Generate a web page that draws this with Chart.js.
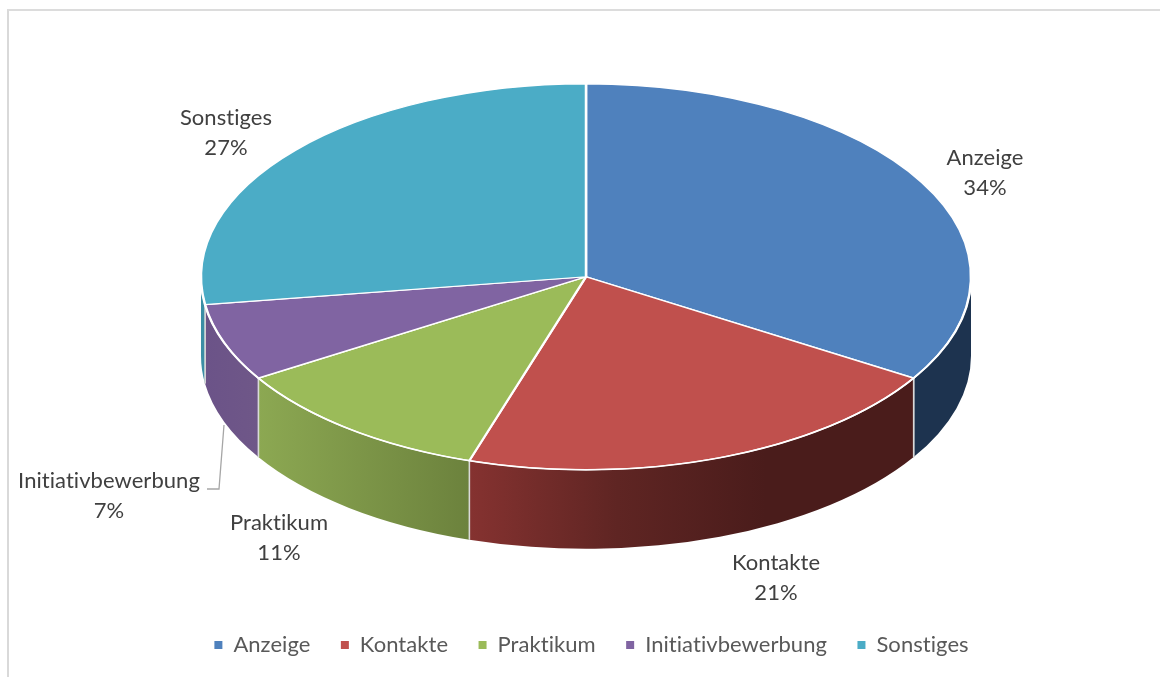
<!DOCTYPE html>
<html>
<head>
<meta charset="utf-8">
<script src="https://cdn.jsdelivr.net/npm/chart.js@4"></script>
<style>
html,body{margin:0;padding:0;background:#fff;overflow:hidden;width:1160px;height:677px}
#frame{position:absolute;left:7px;top:9px;width:1153px;height:668px;border-top:2px solid #dcdcdc;border-left:2px solid #d9d9d9;box-sizing:border-box}
canvas{position:absolute;left:0;top:0}
</style>
</head>
<body>
<div id="frame"></div>
<canvas id="c" width="1160" height="677"></canvas>
<script>
const categories = ['Anzeige','Kontakte','Praktikum','Initiativbewerbung','Sonstiges'];
const values = [33.8,21.1,11.3,6.5,27.3];
const percentLabels = ['34%','21%','11%','7%','27%'];
const topColors = ['#4f81bd','#c0504d','#9bbb59','#8064a2','#4bacc6'];
const wallColors = [
  ['#1d334f','#1d334f'],
  ['#853230','#5f2523','#4a1c1b','#4a1c1b'],
  ['#8ca852','#6c823d'],
  ['#6b5388','#6f5788'],
  ['#3b8ea5','#3b8ea5']
];
const labelCenters = [[985,173],[776,578],[279,538],[109,496],[226,133]];
const leaderLine = [[224,425],[219,489],[207,489]];

const SQUASH = 0.5013, DEPTH = 79, RADIUS = 385;
const FONT = 'Lato, Carlito, "Open Sans", sans-serif';
const TWO_PI = Math.PI * 2;

const pie3d = {
  id:'pie3d',
  afterLayout(chart){
    const lg = chart.legend;
    lg.top += 50; lg.bottom += 50; lg.left += 5; lg.right += 5;
  },
  beforeDraw(chart){
    // a tiny letter spacing switches off Lato's "ti" ligature
    chart.ctx.letterSpacing = '0.05px';
  },
  beforeDatasetsDraw(chart){
    const ctx = chart.ctx;
    chart.getDatasetMeta(0).data.forEach((arc,i)=>{
      const p = arc.getProps(['x','y','startAngle','endAngle','outerRadius'],true);
      const ry = p.outerRadius*SQUASH;
      // visible part of the side wall lies on the lower half: canvas angles 0..PI
      let s = p.startAngle, e = p.endAngle;
      const segs = [];
      [[0,Math.PI],[TWO_PI,TWO_PI+Math.PI],[-TWO_PI,-Math.PI]].forEach(([lo,hi])=>{
        const a = Math.max(s,lo), b = Math.min(e,hi);
        if (b>a) segs.push([a,b]);
      });
      segs.forEach(([a,b])=>{
        const xa = p.x+p.outerRadius*Math.cos(a), xb = p.x+p.outerRadius*Math.cos(b);
        const g = ctx.createLinearGradient(Math.min(xa,xb),0,Math.max(xa,xb),0);
        wallColors[i].forEach((c,k,arr)=>g.addColorStop(k/(arr.length-1),c));
        ctx.save();
        ctx.beginPath();
        ctx.ellipse(p.x,p.y,p.outerRadius,ry,0,a,b,false);
        ctx.ellipse(p.x,p.y+DEPTH,p.outerRadius,ry,0,b,a,true);
        ctx.closePath();
        ctx.fillStyle = g;
        ctx.fill();
        ctx.restore();
        // separators between slices on the wall
        [a,b].forEach(t=>{
          if (Math.abs(Math.sin(t))<1e-6) return;
          const x = p.x+p.outerRadius*Math.cos(t), y = p.y+ry*Math.sin(t);
          ctx.save();
          ctx.strokeStyle='#d9d9d9';
          ctx.lineWidth=1.5;
          ctx.beginPath();ctx.moveTo(x,y);ctx.lineTo(x,y+DEPTH);ctx.stroke();
          ctx.restore();
        });
      });
    });
  },
  beforeDatasetDraw(chart){
    const ctx = chart.ctx;
    const a = chart.getDatasetMeta(0).data[0];
    ctx.save();
    ctx.translate(a.x,a.y);
    ctx.scale(1,SQUASH);
    ctx.translate(-a.x,-a.y);
  },
  afterDatasetDraw(chart){
    chart.ctx.restore();
  },
  afterDatasetsDraw(chart){
    const ctx = chart.ctx;
    ctx.save();
    // rim highlight along the front edge, not squashed
    const first = chart.getDatasetMeta(0).data[0];
    ctx.strokeStyle='#ffffff';
    ctx.lineWidth=1.5;
    ctx.beginPath();
    ctx.ellipse(first.x,first.y,RADIUS,RADIUS*SQUASH,0,0,Math.PI);
    ctx.stroke();
    // leader line
    ctx.strokeStyle='#a6a6a6';
    ctx.lineWidth=1.3;
    ctx.beginPath();
    leaderLine.forEach(([x,y],i)=> i?ctx.lineTo(x,y):ctx.moveTo(x,y));
    ctx.stroke();
    // data labels
    ctx.fillStyle='#404040';
    ctx.font='22px '+FONT;
    ctx.textAlign='center';
    ctx.textBaseline='middle';
    categories.forEach((name,i)=>{
      const [x,y]=labelCenters[i];
      ctx.fillText(name,x,y-15);
      ctx.fillText(percentLabels[i],x,y+15);
    });
    ctx.restore();
  }
};

new Chart(document.getElementById('c'),{
  type:'pie',
  plugins:[pie3d],
  data:{
    labels:categories,
    datasets:[{
      data:values,
      backgroundColor:topColors,
      borderColor:'#ffffff',
      borderWidth:2.5,
      hoverOffset:0
    }]
  },
  options:{
    responsive:false,
    animation:false,
    radius:RADIUS,
    layout:{padding:{left:12,right:0,top:0,bottom:61}},
    plugins:{
      tooltip:{enabled:false},
      legend:{
        display:true,
        position:'bottom',
        labels:{
          usePointStyle:true,
          pointStyle:'rect',
          boxHeight:8,
          pointStyleWidth:8,
          padding:30.5,
          color:'#595959',
          font:{family:FONT,size:22},
          generateLabels(chart){
            return Chart.overrides.doughnut.plugins.legend.labels.generateLabels(chart)
              .map(item=>Object.assign(item,{lineWidth:0}));
          }
        }
      }
    }
  }
});
</script>
</body>
</html>
